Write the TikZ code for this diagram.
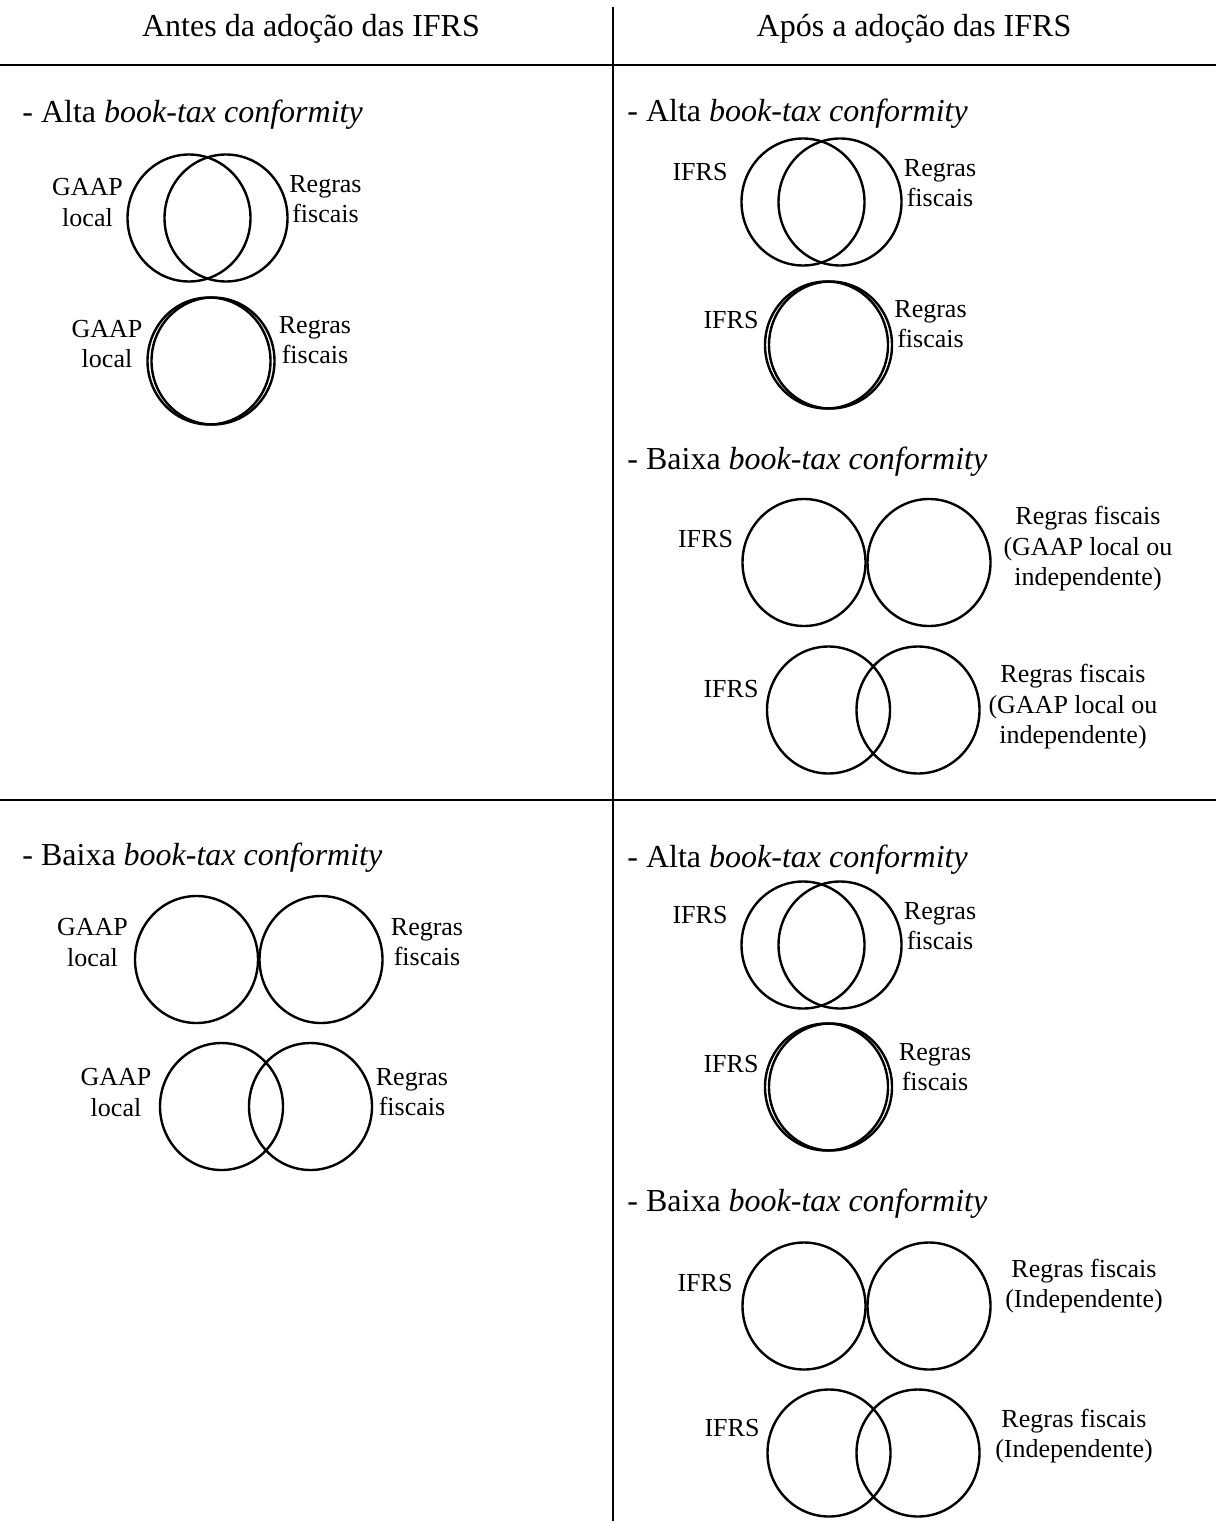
\documentclass[tikz,border=0pt]{standalone}
\usepackage{fontspec}
\setmainfont{Liberation Serif}
\usepackage{tikz}
\usetikzlibrary{positioning}
\tikzset{
  rule/.style={line width=1.1pt},
  venn/.style={line width=1.2pt},
  colhead/.style={font=\fontsize{16}{19}\selectfont},
  sechead/.style={anchor=west,inner sep=0pt,font=\fontsize{16}{19}\selectfont},
  lbl/.style={align=center,inner sep=0pt,font=\fontsize{13}{15.2}\selectfont}
}
\newcommand{\btc}{\textit{book-tax conformity}}

\begin{document}
\begin{tikzpicture}[x=0.5pt,y=-0.5pt]
  \useasboundingbox (0,0) rectangle (1216,1524);

  % quadro
  \draw[rule] (613,7) -- (613,1521);
  \draw[rule] (0,65) -- (1216,65);
  \draw[rule] (0,800) -- (1216,800);

  \node[colhead] (antes) at (311,29) {Antes da adoção das IFRS};
  \node[colhead] (apos) at (914,29) {Após a adoção das IFRS};

  \node[sechead] (s1) at (22,115) {- Alta \btc};
  \node[sechead] (s2) at (627,114) {- Alta \btc};
  \node[sechead] (s3) at (627,462) {- Baixa \btc};
  \node[sechead] (s4) at (22,858) {- Baixa \btc};
  \node[sechead] (s5) at (627,860) {- Alta \btc};
  \node[sechead] (s6) at (627,1204) {- Baixa \btc};

  % pares de circulos e rotulos
  \foreach \n/\xa/\xb/\yc/\lx/\ly/\lt/\rx/\ry/\rt in {
    L1/189/226/218/87.5/202.5/{GAAP\\local}/325.5/199/{Regras\\fiscais},
    L2/209/213/361/107/344/{GAAP\\local}/315/340/{Regras\\fiscais},
    L3/196.5/321/959.5/92.5/942.5/{GAAP\\local}/427/942/{Regras\\fiscais},
    L4/221.5/310.5/1106.5/116/1092.5/{GAAP\\local}/412/1092/{Regras\\fiscais},
    R1/803/840/202/700/172/IFRS/940/183/{Regras\\fiscais},
    R2/826.5/830.5/345/731/320/IFRS/930.5/324/{Regras\\fiscais},
    R3/804/929/562.5/705.5/539/IFRS/1088/549/{Regras fiscais\\(GAAP local ou\\independente)},
    R4/828.5/918/710/731/689/IFRS/1073/707/{Regras fiscais\\(GAAP local ou\\independente)},
    R5/803/840/945/700/915/IFRS/940/926/{Regras\\fiscais},
    R6/826.5/830.5/1087/731/1064/IFRS/935/1067/{Regras\\fiscais},
    R7/804/929/1306/705/1283/IFRS/1084/1286/{Regras fiscais\\(Independente)},
    R8/829/918/1453/732/1428/IFRS/1074/1436/{Regras fiscais\\(Independente)}} {
    \draw[venn] (\xa,\yc) ellipse [x radius=61.5,y radius=63.5];
    \draw[venn] (\xb,\yc) ellipse [x radius=61.5,y radius=63.5];
    \node[lbl] (\n-l) at (\lx,\ly) {\lt};
    \node[lbl] (\n-r) at (\rx,\ry) {\rt};
  }
\end{tikzpicture}
\end{document}
